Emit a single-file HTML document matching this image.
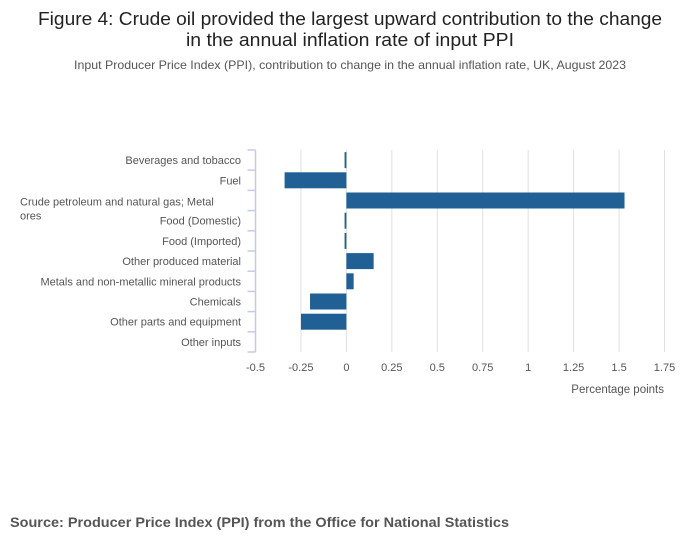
<!DOCTYPE html>
<html><head><meta charset="utf-8"><style>
body{margin:0;background:#fff;width:700px;height:549px;overflow:hidden;font-family:"Liberation Sans",sans-serif}
</style></head><body>
<svg id="chart" width="700" height="549" xmlns="http://www.w3.org/2000/svg" font-family="Liberation Sans, sans-serif">
<text x="350" y="25" text-anchor="middle" font-size="18" fill="#222" textLength="624" lengthAdjust="spacingAndGlyphs">Figure 4: Crude oil provided the largest upward contribution to the change</text>
<text x="350" y="46" text-anchor="middle" font-size="18" fill="#222" textLength="328" lengthAdjust="spacingAndGlyphs">in the annual inflation rate of input PPI</text>
<text x="350" y="69" text-anchor="middle" font-size="12" fill="#555" textLength="552" lengthAdjust="spacingAndGlyphs">Input Producer Price Index (PPI), contribution to change in the annual inflation rate, UK, August 2023</text>
<g id="grid"></g><g id="bars"></g><g id="yaxis"></g><g id="xaxis"></g>
<text x="664" y="393" text-anchor="end" font-size="11.5" fill="#555">Percentage points</text>
<text x="10" y="527" font-size="14" font-weight="bold" fill="#555" textLength="499" lengthAdjust="spacingAndGlyphs">Source: Producer Price Index (PPI) from the Office for National Statistics</text>
</svg>
<script>
const categories=["Beverages and tobacco","Fuel","Crude petroleum and natural gas; Metal ores","Food (Domestic)","Food (Imported)","Other produced material","Metals and non-metallic mineral products","Chemicals","Other parts and equipment","Other inputs"];
const values=[-0.01,-0.34,1.53,-0.01,-0.01,0.15,0.04,-0.2,-0.25,0];
const ticks=[-0.5,-0.25,0,0.25,0.5,0.75,1,1.25,1.5,1.75];
const tickLabels=["-0.5","-0.25","0","0.25","0.5","0.75","1","1.25","1.5","1.75"];
const NS="http://www.w3.org/2000/svg";
const x0=255.5,x1=664.5,y0=150,y1=352;
const xs=v=>x0+(v+0.5)/2.25*(x1-x0);
const band=(y1-y0)/categories.length;
function mk(t,a,p){const e=document.createElementNS(NS,t);for(const k in a)e.setAttribute(k,a[k]);document.getElementById(p).appendChild(e);return e;}
ticks.forEach((t,i)=>{
 if(i>0){const g=mk('line',{x1:xs(t),x2:xs(t),y1:y0,y2:y1,stroke:'#e0e0e0','stroke-width':1},'grid');
 
 }
 const l=mk('text',{x:xs(t),y:371,'text-anchor':'middle','font-size':11,fill:'#555'},'xaxis');l.textContent=tickLabels[i];
 
 
});
const ax=mk('line',{x1:x0,x2:x0,y1:y0,y2:y1,stroke:'#c5cbe6','stroke-width':1.5},'yaxis');


for(let i=0;i<=categories.length;i++){const y=y0+i*band;const tk=mk('line',{x1:x0-8,x2:x0,y1:y,y2:y,stroke:'#c5cbe6','stroke-width':1.5},'yaxis');
 
 }
categories.forEach((c,i)=>{
 const yc=y0+(i+0.5)*band;const v=values[i];
 const r=mk('rect',{x:Math.min(xs(0),xs(v)),y:yc-8,width:Math.max(Math.abs(xs(v)-xs(0)),v===0?0:1.5),height:16,fill:'#206095'},'bars');
 
 
 if(c.length>40){
  const a=mk('text',{x:20,y:yc+5,'font-size':11,fill:'#555'},'yaxis');a.textContent="Crude petroleum and natural gas; Metal";
  
  
  const b=mk('text',{x:20,y:yc+19,'font-size':11,fill:'#555'},'yaxis');b.textContent="ores";
  
  
 } else {
  const l=mk('text',{x:241,y:yc+4,'text-anchor':'end','font-size':11,fill:'#555'},'yaxis');l.textContent=c;
  
  
 }
});
</script>
</body></html>
